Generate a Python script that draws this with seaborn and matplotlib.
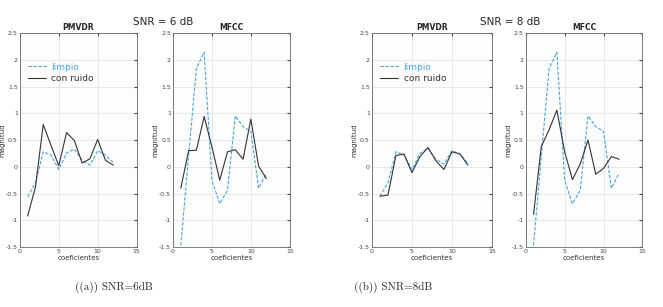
import numpy as np
import pandas as pd
import matplotlib
matplotlib.use("Agg")
import matplotlib.pyplot as plt
import seaborn as sns

# coefficient index
coef = list(range(1, 13))

# SNR = 6 dB
pmvdr_clean_6 = [-0.56, -0.30, 0.28, 0.22, -0.05, 0.26, 0.33, 0.12, 0.03, 0.30, 0.22, 0.08]
pmvdr_noisy_6 = [-0.92, -0.38, 0.79, 0.40, 0.02, 0.64, 0.49, 0.07, 0.15, 0.51, 0.12, 0.03]
mfcc_clean_6 = [-1.47, 0.20, 1.84, 2.14, -0.25, -0.69, -0.44, 0.95, 0.75, 0.66, -0.40, -0.12]
mfcc_noisy_6 = [-0.40, 0.30, 0.31, 0.94, 0.37, -0.25, 0.28, 0.32, 0.14, 0.89, 0.01, -0.22]

# SNR = 8 dB
pmvdr_clean_8 = [-0.55, -0.30, 0.28, 0.22, -0.05, 0.25, 0.34, 0.14, 0.05, 0.30, 0.24, 0.06]
pmvdr_noisy_8 = [-0.55, -0.53, 0.21, 0.24, -0.11, 0.19, 0.36, 0.11, -0.05, 0.28, 0.24, 0.03]
mfcc_clean_8 = [-1.47, 0.20, 1.84, 2.14, -0.25, -0.69, -0.44, 0.95, 0.75, 0.66, -0.40, -0.12]
mfcc_noisy_8 = [-0.89, 0.38, 0.69, 1.06, 0.28, -0.24, 0.05, 0.50, -0.14, -0.03, 0.19, 0.14]

CLEAN_COL = "#4aa3df"
NOISY_COL = "#333333"

sns.set_style("whitegrid")
plt.rcParams["font.family"] = ["DejaVu Sans"]


def make_df(clean, noisy):
    return pd.DataFrame({
        "coef": coef * 2,
        "value": clean + noisy,
        "serie": ["limpio"] * len(coef) + ["con ruido"] * len(coef),
    })


panels = [
    ("PMVDR", pmvdr_clean_6, pmvdr_noisy_6, [0.030, 0.1954, 0.176, 0.697], True),
    ("MFCC", mfcc_clean_6, mfcc_noisy_6, [0.261, 0.1954, 0.176, 0.697], False),
    ("PMVDR", pmvdr_clean_8, pmvdr_noisy_8, [0.561, 0.1954, 0.181, 0.697], True),
    ("MFCC", mfcc_clean_8, mfcc_noisy_8, [0.793, 0.1954, 0.176, 0.697], False),
]

fig = plt.figure(figsize=(6.63, 3.07), dpi=100)

for title, clean, noisy, rect, show_leg in panels:
    ax = fig.add_axes(rect)
    ax.set_facecolor("#fdfdfd")
    df = make_df(clean, noisy)
    sns.lineplot(
        data=df, x="coef", y="value", hue="serie", style="serie",
        hue_order=["limpio", "con ruido"], style_order=["limpio", "con ruido"],
        palette={"limpio": CLEAN_COL, "con ruido": NOISY_COL},
        dashes={"limpio": (3, 1.5), "con ruido": ""},
        linewidth=0.8, ax=ax, legend=show_leg,
    )
    ax.set_xlim(0, 15)
    ax.set_ylim(-1.5, 2.5)
    ax.set_xticks([0, 5, 10, 15])
    ax.set_yticks(np.arange(-1.5, 2.51, 0.5))
    ax.set_yticklabels(["-1.5", "-1", "-0.5", "0", "0.5", "1", "1.5", "2", "2.5"])
    ax.tick_params(labelsize=4.5, length=2, direction="in", pad=1.5,
                   colors="#444444", top=True, right=True)
    ax.grid(color="#e3e3e3", linewidth=0.6)
    for sp in ax.spines.values():
        sp.set_color("#666666")
        sp.set_linewidth(0.6)
    ax.set_title(title, fontsize=5.5, fontweight="bold", pad=2)
    ax.set_xlabel("coeficientes", fontsize=5, color="#333333", labelpad=1)
    ax.set_ylabel("magnitud", fontsize=5, color="#333333", labelpad=0.3)
    if show_leg:
        leg = ax.legend(loc="upper left", bbox_to_anchor=(0.0, 0.90), frameon=False,
                        fontsize=6.5, handlelength=2.0, handletextpad=0.6,
                        labelspacing=0.3)
        for txt, col in zip(leg.get_texts(), [CLEAN_COL, NOISY_COL]):
            txt.set_color(col)

fig.text(0.246, 0.92, "SNR = 6 dB", fontsize=7.5, ha="center")
fig.text(0.770, 0.92, "SNR = 8 dB", fontsize=7.5, ha="center")

fig.text(0.172, 0.055, "((a)) SNR=6dB", fontsize=8, ha="center",
         family=["cmr10", "DejaVu Serif"])
fig.text(0.593, 0.055, "((b)) SNR=8dB", fontsize=8, ha="center",
         family=["cmr10", "DejaVu Serif"])

fig.savefig("out.png", dpi=100)
